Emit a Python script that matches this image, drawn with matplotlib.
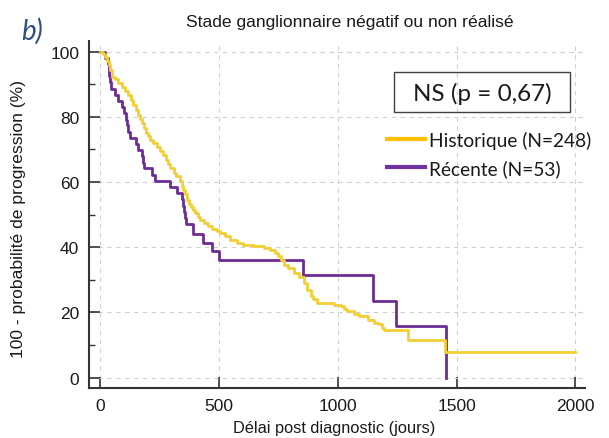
import matplotlib
matplotlib.use("Agg")
import matplotlib.pyplot as plt
from matplotlib.lines import Line2D
from matplotlib.patches import Rectangle
import numpy as np

# ---- data ----
hist_days = [0, 10, 20, 28, 35, 42, 50, 62, 75, 90, 105, 117, 128, 139, 150, 160, 168, 176,
             183, 190, 200, 209, 222, 237, 250, 265, 275, 285, 295, 308, 320, 336, 343, 350,
             357, 364, 372, 382, 392, 400, 410, 420, 435, 455, 470, 490, 505, 525, 547, 575,
             600, 646, 690, 716, 735, 750, 760, 772, 790, 815, 835, 857, 871, 885, 895, 913,
             984, 1012, 1026, 1040, 1068, 1089, 1125, 1153, 1174, 1188, 1195, 1297, 1450, 2000]
hist_surv = [100, 99.2, 98.4, 97.2, 96.0, 94.4, 92.4, 91.5, 90.4, 89.2, 88.0, 86.8, 85.2, 83.8,
             82.2, 80.7, 79.4, 78.1, 76.5, 75.0, 74.0, 73.0, 72.0, 70.9, 69.6, 68.4, 66.8, 65.5,
             64.3, 62.8, 61.8, 60.2, 58.8, 57.7, 56.2, 54.6, 53.4, 52.5, 51.5, 50.4, 49.4, 48.5,
             47.5, 46.5, 45.6, 45.0, 44.4, 43.4, 42.3, 41.3, 40.8, 40.3, 39.8, 39.3, 38.3, 37.2,
             36.2, 34.7, 33.6, 32.1, 31.0, 29.1, 27.0, 25.0, 24.0, 22.9, 22.4, 21.9, 20.9, 20.3,
             19.4, 18.8, 17.8, 16.8, 16.3, 15.2, 14.5, 11.6, 7.8, 7.8]

rec_days = [0, 19, 30, 38, 42, 46, 62, 76, 90, 100, 106, 112, 118, 125, 150, 160, 174, 180,
            183, 216, 230, 294, 322, 343, 350, 352, 356, 360, 392, 434, 470, 498, 853, 1150,
            1247, 1455]
rec_surv = [100, 98.1, 96.2, 92.5, 90.6, 88.7, 86.8, 84.9, 83.0, 81.1, 79.2, 77.4, 75.5, 73.6,
            71.7, 69.8, 67.9, 66.0, 64.2, 62.3, 60.4, 58.5, 56.6, 54.7, 52.8, 50.9, 49.1, 47.2,
            44.0, 41.3, 38.7, 36.2, 31.4, 23.5, 15.7, 0.0]

x_ticks = [0, 500, 1000, 1500, 2000]
y_ticks = [0, 20, 40, 60, 80, 100]
series_labels = ["Historique (N=248)", "Récente (N=53)"]
title = "Stade ganglionnaire négatif ou non réalisé"
xlabel = "Délai post diagnostic (jours)"
ylabel = "100 - probabilité de progression (%)"
pvalue_text = "NS (p = 0,67)"
panel_label = "b)"

# ---- style ----
W, H = 609, 439
fig = plt.figure(figsize=(W / 100, H / 100), dpi=100)
fig.patch.set_facecolor("white")
ax = fig.add_axes([89 / W, 1 - 389 / H, (585 - 89) / W, (389 - 42) / H])

yellow = "#F2CF35"
purple = "#6E2D96"

ax.step(rec_days, rec_surv, where="post", color=purple, lw=2.0, zorder=3)
ax.step(hist_days, hist_surv, where="post", color=yellow, lw=2.0, zorder=4)

ax.set_xlim(-48, 2041)
ax.set_ylim(-3.2, 103.3)
ax.set_xticks(x_ticks)
ax.set_yticks(y_ticks)
ax.set_yticks([10, 30, 50, 70, 90], minor=True)
ax.grid(True, which="major", ls=(0, (4, 4)), color="#cfcfcf", lw=0.8)
ax.set_axisbelow(True)

tickfont = "Liberation Sans"
ax.tick_params(axis="both", which="major", direction="in", length=8, width=1.2,
               color="#333333", labelsize=12.5, labelcolor="#1a1a1a")
ax.tick_params(axis="y", which="minor", direction="in", length=4, width=1.0, color="#333333")
ax.tick_params(axis="x", pad=7)
ax.tick_params(axis="y", pad=7)
for lab in ax.get_xticklabels() + ax.get_yticklabels():
    lab.set_fontfamily(tickfont)
for s in ["top", "right"]:
    ax.spines[s].set_visible(False)
for s in ["left", "bottom"]:
    ax.spines[s].set_color("#333333")
    ax.spines[s].set_linewidth(1.5)

ax.set_xlabel(xlabel, fontsize=11.8, family=tickfont, color="#1a1a1a")
ax.set_ylabel(ylabel, fontsize=12.6, family=tickfont, color="#1a1a1a")
ax.xaxis.set_label_coords(0.494, -0.093)
ax.yaxis.set_label_coords(-0.128, 0.49)

fig.text(350 / W, 1 - 23 / H, title, ha="center", va="center", fontsize=12.6,
         family=tickfont, color="#1a1a1a")
fig.text(21 / W, 1 - 31 / H, panel_label, ha="left", va="center", fontsize=20,
         family="Lato", style="italic", color="#2F4E82")

# p-value box
fig.patches.append(Rectangle((394 / W, 1 - 113 / H), (570 - 394) / W, (113 - 73) / H,
                             transform=fig.transFigure, fill=False, edgecolor="#404040", lw=1.0))
fig.text(482 / W, 1 - 94 / H, pvalue_text, ha="center", va="center", fontsize=17.5,
         family="Lato", color="#1a1a1a")

handles = [Line2D([], [], color="#FFC000", lw=3.0), Line2D([], [], color="#7030A0", lw=3.0)]
leg = fig.legend(handles, series_labels, loc="upper left",
                 bbox_to_anchor=(387 / W, 1 - 132 / H), frameon=False,
                 prop={"family": "Lato", "size": 13.8}, handlelength=2.0,
                 handletextpad=0.2, labelspacing=0.52, borderpad=0, borderaxespad=0)
for t in leg.get_texts():
    t.set_color("#1a1a1a")

fig.savefig("out.png", dpi=100, facecolor="white")
